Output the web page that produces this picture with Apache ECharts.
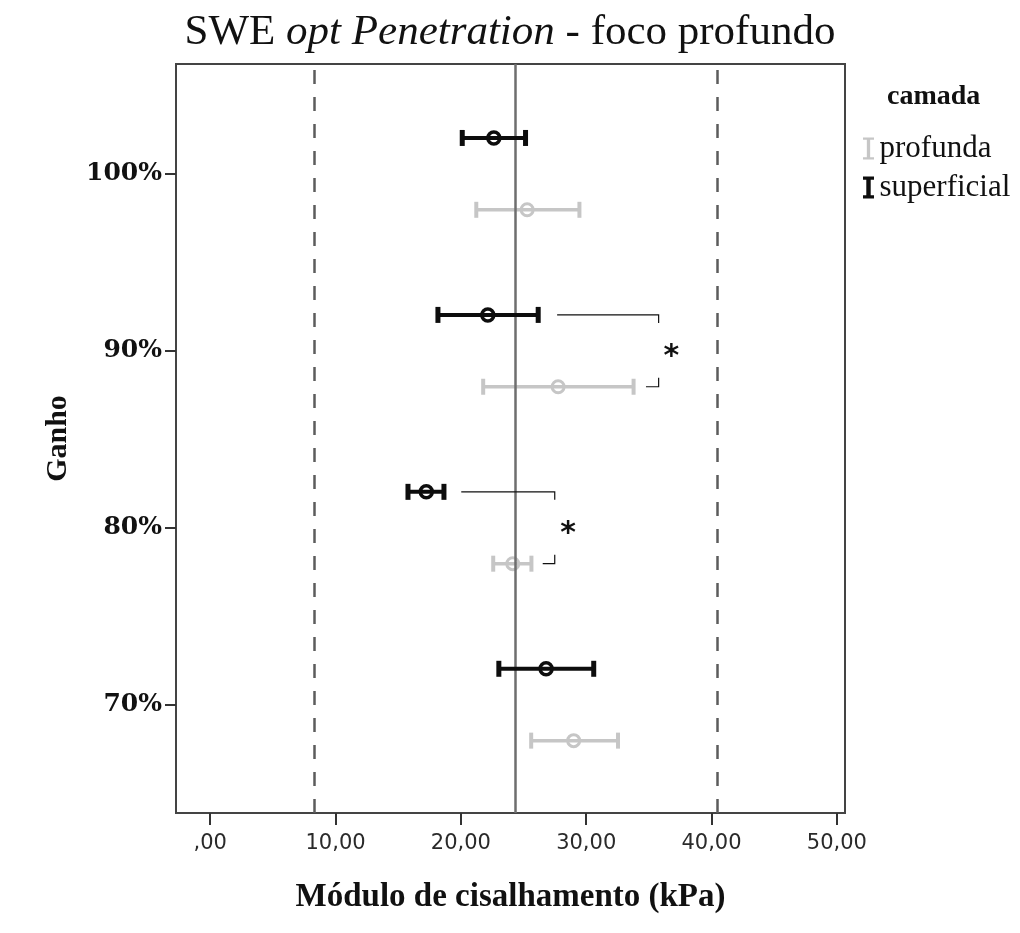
<!DOCTYPE html>
<html>
<head>
<meta charset="utf-8">
<script src="https://cdn.jsdelivr.net/npm/echarts@6/dist/echarts.min.js"></script>
<style>
  html, body { margin: 0; padding: 0; background: #ffffff; }
  #chart { width: 1020px; height: 933px; }
</style>
</head>
<body>
<div id="chart"></div>
<script>
// gain levels (y axis)
const gains = [100, 90, 80, 70]

// camada superficial: mean and 95% CI
const superficialMean = [22.63, 22.15, 17.24, 26.80]
const superficialLow = [20.11, 18.17, 15.78, 23.03]
const superficialHigh = [25.16, 26.17, 18.65, 30.60]

// camada profunda: mean and 95% CI
const profundaMean = [25.29, 27.76, 24.14, 29.00]
const profundaLow = [21.23, 21.78, 22.58, 25.61]
const profundaHigh = [29.46, 33.78, 25.63, 32.54]

// reference lines (mean and limits)
const refDashed = [8.29, 40.43]
const refSolid = [24.36]

// axis ticks
const xTicks = [0, 10, 20, 30, 40, 50]
const yTicks = [70, 80, 90, 100]

// significance brackets
const sigGain = [90, 80]
const sigTopStart = [27.68, 20.03]
const sigBottomStart = [34.77, 26.53]
const sigEnd = [35.78, 27.49]
const sigStarX = [36.8, 28.56]

const ROW_OFFSET = 2.03 // half distance between the two layers of one gain

const chart = echarts.init(document.getElementById('chart'))

const makeErrorSeries = (name, color, lineW, capW, r, means, lows, highs, sign) => ({
  name,
  type: 'custom',
  itemStyle: { color },
  data: gains.map((g, i) => [lows[i], means[i], highs[i], g]),
  encode: { x: [0, 1, 2], y: 3 },
  z: name === 'superficial' ? 5 : 4,
  renderItem: (params, api) => {
    const y = api.value(3) + sign * ROW_OFFSET
    const pl = api.coord([api.value(0), y])
    const pm = api.coord([api.value(1), y])
    const ph = api.coord([api.value(2), y])
    const capH = 8
    const style = { stroke: color, lineWidth: lineW, fill: null }
    return {
      type: 'group',
      children: [
        { type: 'line', shape: { x1: pl[0], y1: pl[1], x2: ph[0], y2: ph[1] }, style },
        { type: 'line', shape: { x1: pl[0], y1: pl[1] - capH, x2: pl[0], y2: pl[1] + capH }, style: { stroke: color, lineWidth: capW } },
        { type: 'line', shape: { x1: ph[0], y1: ph[1] - capH, x2: ph[0], y2: ph[1] + capH }, style: { stroke: color, lineWidth: capW } },
        { type: 'circle', shape: { cx: pm[0], cy: pm[1], r }, style: { stroke: color, lineWidth: lineW - 0.5, fill: 'rgba(255,255,255,0)' } }
      ]
    }
  }
})

const profundaSeries = makeErrorSeries('profunda', '#c6c6c6', 3.5, 4, 6, profundaMean, profundaLow, profundaHigh, -1)
profundaSeries.markLine = {
  silent: true,
  symbol: 'none',
  label: { show: false },
  data: [
    ...refDashed.map(v => ({ xAxis: v, lineStyle: { type: [14, 13], color: '#5c5c5c', width: 2.5 } })),
    ...refSolid.map(v => ({ xAxis: v, lineStyle: { type: 'solid', color: '#6e6e6e', width: 2.5 } }))
  ]
}

const superficialSeries = makeErrorSeries('superficial', '#0d0d0d', 4, 5, 6, superficialMean, superficialLow, superficialHigh, 1)

const bracketSeries = {
  name: 'sig',
  type: 'custom',
  silent: true,
  z: 6,
  data: sigGain.map((g, i) => [sigTopStart[i], sigBottomStart[i], sigEnd[i], g, sigStarX[i]]),
  encode: { x: [0, 2], y: 3 },
  renderItem: (params, api) => {
    const g = api.value(3)
    const top = api.coord([api.value(0), g + ROW_OFFSET])
    const bot = api.coord([api.value(1), g - ROW_OFFSET])
    const endTop = api.coord([api.value(2), g + ROW_OFFSET])
    const endBot = api.coord([api.value(2), g - ROW_OFFSET])
    const star = api.coord([api.value(4), g])
    const st = { stroke: '#111', lineWidth: 1.2, fill: null }
    return {
      type: 'group',
      children: [
        { type: 'polyline', shape: { points: [top, endTop, [endTop[0], endTop[1] + 8]] }, style: st },
        { type: 'polyline', shape: { points: [bot, endBot, [endBot[0], endBot[1] - 9]] }, style: st },
        { type: 'text', style: { text: '*', x: star[0], y: star[1] + 6, align: 'center', verticalAlign: 'middle', font: 'bold 30px "DejaVu Sans"', fill: '#111' } }
      ]
    }
  }
}

const fmtX = v => (v === 0 ? ',00' : v.toFixed(2).replace('.', ','))

chart.setOption({
  backgroundColor: '#ffffff',
  animation: false,
  title: [
    {
      left: 'center',
      top: 6,
      text: '{a|SWE }{b|opt Penetration}{a| - foco profundo}',
      textStyle: {
        fontWeight: 'normal',
        rich: {
          a: { fontFamily: 'Liberation Serif', fontWeight: 'normal', fontSize: 43, color: '#111' },
          b: { fontFamily: 'Liberation Serif', fontWeight: 'normal', fontStyle: 'italic', fontSize: 43, color: '#111' }
        }
      }
    },
    {
      left: 882,
      top: 78,
      text: 'camada',
      textStyle: { fontFamily: 'Liberation Serif', fontWeight: 'bold', fontSize: 28, color: '#111' }
    }
  ],
  legend: {
    orient: 'vertical',
    left: 858,
    top: 128,
    itemGap: 8,
    itemWidth: 12,
    itemHeight: 22,
    data: [
      { name: 'profunda', icon: 'path://M0,0 H10 V2 H6.5 V18 H10 V20 H0 V18 H3.5 V2 H0 Z' },
      { name: 'superficial', icon: 'path://M0,0 H10 V3 H7 V17 H10 V20 H0 V17 H3 V3 H0 Z' }
    ],
    textStyle: { fontFamily: 'Liberation Serif', fontSize: 31, color: '#111', padding: [0, 0, 0, 0] }
  },
  grid: {
    left: 176,
    right: 175,
    top: 64,
    bottom: 120,
    show: true,
    borderColor: '#444',
    borderWidth: 2
  },
  xAxis: {
    type: 'value',
    min: -2.73,
    max: 50.65,
    name: 'Módulo de cisalhamento (kPa)',
    nameLocation: 'middle',
    nameGap: 68,
    nameTextStyle: { fontFamily: 'Liberation Serif', fontWeight: 'bold', fontSize: 33, color: '#111' },
    axisLine: { show: true, onZero: false, lineStyle: { color: '#444', width: 2 } },
    axisTick: { show: true, customValues: xTicks, length: 12, lineStyle: { color: '#333', width: 2 } },
    axisLabel: { customValues: xTicks, margin: 20, formatter: fmtX, fontFamily: 'DejaVu Sans', fontSize: 21, color: '#2a2a2a' },
    splitLine: { show: false }
  },
  yAxis: {
    type: 'value',
    min: 63.88,
    max: 106.21,
    name: 'Ganho',
    nameLocation: 'middle',
    nameGap: 103,
    nameRotate: 90,
    nameTextStyle: { fontFamily: 'Liberation Serif', fontWeight: 'bold', fontSize: 30, color: '#111' },
    axisLine: { show: true, onZero: false, lineStyle: { color: '#444', width: 2 } },
    axisTick: { show: true, customValues: yTicks, length: 11, lineStyle: { color: '#333', width: 2 } },
    axisLabel: { customValues: yTicks, margin: 14, formatter: '{value}%', fontFamily: 'DejaVu Serif', fontWeight: 'bold', fontSize: 25, color: '#111' },
    splitLine: { show: false }
  },
  series: [profundaSeries, superficialSeries, bracketSeries]
})
</script>
</body>
</html>
